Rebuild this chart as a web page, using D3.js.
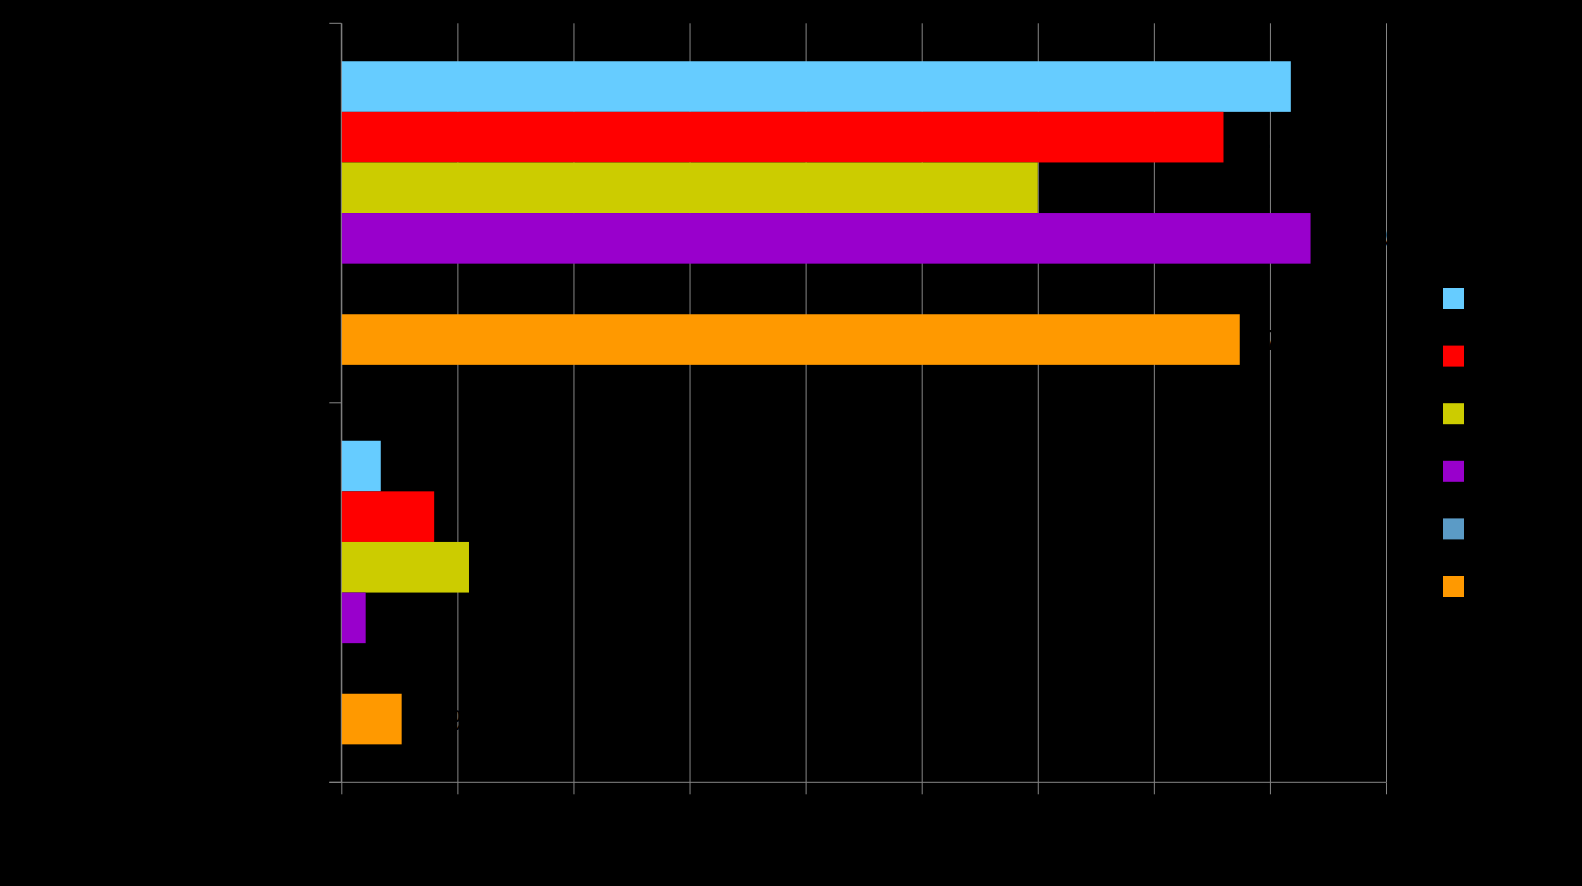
<!DOCTYPE html>
<html>
<head>
<meta charset="utf-8">
<script src="https://cdn.jsdelivr.net/npm/d3@7"></script>
<style>
  html, body { margin: 0; padding: 0; background: #000; }
  svg { display: block; }
  text { font-family: "Liberation Sans", Arial, sans-serif; }
</style>
</head>
<body>
<svg id="chart" width="1582" height="886"></svg>
<script>
// ---- data ----
const categories = ["Yes", "No"];
const seriesNames = ["2008", "2009", "2010", "2011", "2012", "2013"];
const seriesColors = ["#66CCFF", "#FF0000", "#CCCC00", "#9900CC", "#5B9BC6", "#FF9900"];
const valuesYes = [81.8, 76.0, 60.0, 83.5, null, 77.4];
const valuesNo  = [3.4, 8.0, 11.0, 2.1, null, 5.2];
const xTicks = [0, 10, 20, 30, 40, 50, 60, 70, 80, 90];

const valuesByCategory = [valuesYes, valuesNo];

(function () {
const svg = d3.select("#chart");
const W = 1582, H = 886;
svg.append("rect").attr("width", W).attr("height", H).attr("fill", "#000");

const pL = 341.3, pR = 1386, pT = 23.3, pB = 782.3;
const gridColor = "#868686";

const x = d3.scaleLinear().domain([0, 90]).range([pL, pR]);
const y0 = d3.scaleBand().domain(categories).range([pT, pB]).padding(0);
const y1 = d3.scaleBand().domain(seriesNames).range([0, y0.bandwidth()])
  .paddingInner(0).paddingOuter(0.75);

// gridlines
const grid = svg.append("g").attr("transform", `translate(0,${pT})`)
  .call(d3.axisBottom(x).tickValues(xTicks).tickSize(pB - pT).tickFormat(""));
grid.select(".domain").remove();
grid.selectAll("line").attr("stroke", gridColor).attr("stroke-width", 1);

// bars
const groups = svg.append("g").selectAll("g")
  .data(categories.map((c, i) => ({ cat: c, vals: valuesByCategory[i] })))
  .join("g")
  .attr("transform", d => `translate(0,${y0(d.cat)})`);

groups.selectAll("rect")
  .data(d => d.vals.map((v, j) => ({ v, s: seriesNames[j], c: seriesColors[j] })).filter(e => e.v != null))
  .join("rect")
  .attr("x", x(0))
  .attr("y", d => y1(d.s))
  .attr("width", d => x(d.v) - x(0))
  .attr("height", y1.bandwidth())
  .attr("fill", d => d.c);

// data labels (black, as in the reference)
groups.selectAll("text.lbl")
  .data(d => d.vals.map((v, j) => ({ v, s: seriesNames[j] })).filter(e => e.v != null))
  .join("text")
  .attr("class", "lbl")
  .attr("x", d => x(d.v) + 7)
  .attr("y", d => y1(d.s) + y1.bandwidth() / 2)
  .attr("dy", "0.35em")
  .attr("font-size", 30)
  .attr("fill", "#000")
  .text(d => d3.format(".1f")(d.v) + "%");

// x axis
const xAxis = svg.append("g").attr("transform", `translate(0,${pB})`)
  .call(d3.axisBottom(x).tickValues(xTicks).tickSizeInner(12).tickSizeOuter(0)
    .tickFormat(d => d + "%"));
xAxis.select(".domain").attr("stroke", gridColor).attr("d", `M${pL - 12},0H${pR}`);
xAxis.selectAll("line").attr("stroke", gridColor);
xAxis.selectAll("text").attr("fill", "#000").attr("font-size", 18);

// y axis
const yAxis = svg.append("g").attr("transform", `translate(${pL},0)`)
  .call(d3.axisLeft(y0).tickSize(0).tickPadding(20));
yAxis.select(".domain").attr("stroke", gridColor).attr("d", `M0,${pT}V${pB}`);
yAxis.selectAll("text").attr("fill", "#000").attr("font-size", 18);
const bounds = [pT].concat(categories.map(c => y0(c) + y0.bandwidth()));
yAxis.selectAll("line.bound").data(bounds).join("line")
  .attr("class", "bound")
  .attr("x1", -12).attr("x2", 0)
  .attr("y1", d => d).attr("y2", d => d)
  .attr("stroke", gridColor);

// legend
const legend = svg.append("g").attr("transform", "translate(1443,288)");
const li = legend.selectAll("g").data(seriesNames).join("g")
  .attr("transform", (d, i) => `translate(0,${i * 57.6})`);
li.append("rect").attr("width", 21).attr("height", 21)
  .attr("fill", (d, i) => seriesColors[i]);
li.append("text").attr("x", 30).attr("y", 10.5).attr("dy", "0.35em")
  .attr("font-size", 18).attr("fill", "#000").text(d => d);
})();
</script>
</body>
</html>
